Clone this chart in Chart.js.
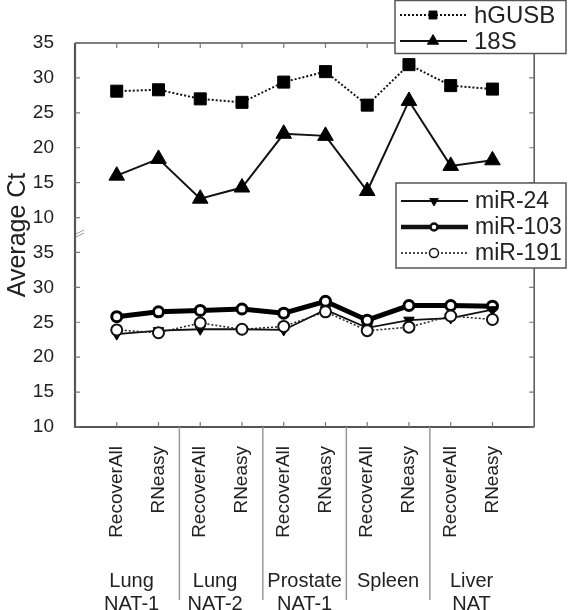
<!DOCTYPE html>
<html>
<head>
<meta charset="utf-8">
<script src="https://cdn.jsdelivr.net/npm/chart.js"></script>
<style>
  html, body { margin: 0; padding: 0; background: #fff; }
  #wrap { width: 568px; height: 610px; position: relative; }
</style>
</head>
<body>
<div id="wrap"><canvas id="c" width="568" height="610"></canvas></div>
<script>
// sample categories (x axis) and tissue groups
const categories = ['RecoverAll', 'RNeasy', 'RecoverAll', 'RNeasy', 'RecoverAll', 'RNeasy',
    'RecoverAll', 'RNeasy', 'RecoverAll', 'RNeasy'];
const groups = [['Lung', 'NAT-1'], ['Lung', 'NAT-2'], ['Prostate', 'NAT-1'], ['Spleen'], ['Liver', 'NAT']];

// y tick labels, both panels use 10..35
const yTickLabels = [10, 15, 20, 25, 30, 35];

// upper panel
const hGUSB = [28.1, 28.3, 27.0, 26.5, 29.4, 30.9, 26.1, 31.9, 28.9, 28.4];
const s18 = [16.0, 18.4, 12.7, 14.3, 22.0, 21.7, 13.8, 26.7, 17.4, 18.2];

// lower panel
const mir24 = [23.3, 23.8, 24.0, 24.0, 23.9, 26.8, 24.2, 25.3, 25.6, 26.8];
const mir103 = [25.8, 26.5, 26.7, 26.9, 26.3, 28.0, 25.3, 27.4, 27.4, 27.3];
const mir191 = [23.9, 23.5, 24.9, 24.0, 24.4, 26.5, 23.8, 24.3, 25.9, 25.4];

// upper panel is shifted up on the shared axis (broken axis)
const TOP_SHIFT = 30;

const FONT = "'Liberation Sans', Arial, sans-serif";
Chart.defaults.font.family = FONT;
Chart.defaults.color = '#222';

function points(vals, shift) {
    return vals.map((v, i) => ({ x: i + 1, y: v + shift }));
}

// marker helper for the legends
function marker(ctx, style, x, y, r, fill, lw) {
    ctx.save();
    ctx.fillStyle = fill;
    ctx.strokeStyle = '#111';
    ctx.lineWidth = lw;
    ctx.beginPath();
    if (style === 'rect') {
        ctx.rect(x - r, y - r, 2 * r, 2 * r);
    } else if (style === 'tri') {
        ctx.moveTo(x, y - r);
        ctx.lineTo(x + r * 0.87, y + r * 0.5);
        ctx.lineTo(x - r * 0.87, y + r * 0.5);
        ctx.closePath();
    } else if (style === 'tridown') {
        ctx.moveTo(x, y + r);
        ctx.lineTo(x + r * 0.87, y - r * 0.5);
        ctx.lineTo(x - r * 0.87, y - r * 0.5);
        ctx.closePath();
    } else {
        ctx.arc(x, y, r, 0, Math.PI * 2);
    }
    ctx.fill();
    ctx.stroke();
    ctx.restore();
}

function legendBox(ctx, x, y, w, h, rows) {
    ctx.save();
    ctx.fillStyle = '#fff';
    ctx.fillRect(x, y, w, h);
    ctx.strokeStyle = '#555';
    ctx.lineWidth = 1.5;
    ctx.strokeRect(x, y, w, h);
    rows.forEach(r => {
        ctx.beginPath();
        ctx.strokeStyle = '#111';
        ctx.lineWidth = r.lw;
        ctx.setLineDash(r.dash || []);
        ctx.moveTo(x + 5, r.y);
        ctx.lineTo(x + 72, r.y);
        ctx.stroke();
        ctx.setLineDash([]);
        marker(ctx, r.style, x + 38, r.y, r.r, r.fill, r.mlw);
        ctx.fillStyle = '#222';
        ctx.font = r.font + 'px ' + FONT;
        ctx.textBaseline = 'middle';
        ctx.fillText(r.label, x + 79, r.y + 1);
    });
    ctx.restore();
}

const framePlugin = {
    id: 'frame',
    beforeDatasetsDraw(chart) {
        const ctx = chart.ctx;
        const { left, right, top, bottom } = chart.chartArea;
        const xs = chart.scales.x, ys = chart.scales.y;
        ctx.save();
        ctx.strokeStyle = '#555';
        // frame
        ctx.lineWidth = 2.2;
        ctx.beginPath();
        ctx.moveTo(left, top); ctx.lineTo(left, bottom); ctx.lineTo(right, bottom);
        ctx.stroke();
        ctx.lineWidth = 1.5;
        ctx.beginPath();
        ctx.moveTo(left, top); ctx.lineTo(right, top); ctx.lineTo(right, bottom);
        ctx.stroke();
        // inward ticks
        ctx.lineWidth = 1.2;
        ctx.strokeStyle = '#777';
        ys.ticks.forEach(t => {
            const py = ys.getPixelForValue(t.value);
            ctx.beginPath();
            ctx.moveTo(left, py); ctx.lineTo(left + 5, py);
            ctx.moveTo(right - 5, py); ctx.lineTo(right, py);
            ctx.stroke();
        });
        for (let i = 1; i <= categories.length; i++) {
            const px = xs.getPixelForValue(i);
            ctx.beginPath();
            ctx.moveTo(px, top); ctx.lineTo(px, top + 5);
            ctx.moveTo(px, bottom - 5); ctx.lineTo(px, bottom);
            ctx.stroke();
        }
        // axis break mark
        const yb = (ys.getPixelForValue(35) + ys.getPixelForValue(40)) / 2 - 4;
        ctx.strokeStyle = '#999';
        ctx.lineWidth = 1;
        ctx.beginPath();
        ctx.moveTo(left + 1, yb + 3); ctx.lineTo(left + 9, yb - 1);
        ctx.moveTo(left + 1, yb + 6); ctx.lineTo(left + 9, yb + 2);
        ctx.stroke();
        // group separators
        ctx.strokeStyle = '#999';
        ctx.lineWidth = 1.5;
        for (let g = 1; g < groups.length; g++) {
            const px = xs.getPixelForValue(2 * g + 0.5);
            ctx.beginPath();
            ctx.moveTo(px, bottom); ctx.lineTo(px, 600);
            ctx.stroke();
        }
        ctx.restore();
    },
    afterDraw(chart) {
        const ctx = chart.ctx;
        const xs = chart.scales.x;
        // group labels
        ctx.save();
        ctx.fillStyle = '#222';
        ctx.font = '20px ' + FONT;
        ctx.textAlign = 'center';
        ctx.textBaseline = 'middle';
        groups.forEach((g, k) => {
            const px = xs.getPixelForValue(2 * k + 1.5) - (k < 2 ? 6 : 0);
            g.forEach((line, j) => ctx.fillText(line, px, 581 + j * 23));
        });
        ctx.restore();

        legendBox(ctx, 395, 0.5, 171, 53, [
            { label: 'hGUSB', y: 15, lw: 2, dash: [2, 2], style: 'rect', r: 4, fill: '#000', mlw: 1, font: 24 },
            { label: '18S', y: 41, lw: 2, style: 'tri', r: 6.5, fill: '#000', mlw: 1, font: 24 }
        ]);
        legendBox(ctx, 396, 183, 170, 85, [
            { label: 'miR-24', y: 201, lw: 2, style: 'tridown', r: 5, fill: '#000', mlw: 1, font: 23 },
            { label: 'miR-103', y: 227, lw: 4.5, style: 'circle', r: 3.5, fill: '#fff', mlw: 2.5, font: 23 },
            { label: 'miR-191', y: 253, lw: 1.5, dash: [2, 2], style: 'circle', r: 4.5, fill: '#fff', mlw: 1.5, font: 23 }
        ]);
    }
};

new Chart(document.getElementById('c'), {
    type: 'line',
    data: {
        datasets: [
            {
                label: 'hGUSB', data: points(hGUSB, TOP_SHIFT), order: 1,
                borderColor: '#111', borderWidth: 2, borderDash: [2, 2],
                pointStyle: 'rect', pointRadius: 8.5, pointBackgroundColor: '#000',
                pointBorderColor: '#000', pointBorderWidth: 1
            },
            {
                label: '18S', data: points(s18, TOP_SHIFT), order: 2,
                borderColor: '#111', borderWidth: 2,
                pointStyle: 'triangle', pointRadius: 9, pointBackgroundColor: '#000',
                pointBorderColor: '#000', pointBorderWidth: 1
            },
            {
                label: 'miR-103', data: points(mir103, 0), order: 5,
                borderColor: '#000', borderWidth: 5,
                pointStyle: 'circle', pointRadius: 5, pointBackgroundColor: '#fff',
                pointBorderColor: '#000', pointBorderWidth: 3
            },
            {
                label: 'miR-24', data: points(mir24, 0), order: 4,
                borderColor: '#111', borderWidth: 1.8,
                pointStyle: 'triangle', pointRotation: 180, pointRadius: 6, pointBackgroundColor: '#000',
                pointBorderColor: '#000', pointBorderWidth: 1
            },
            {
                label: 'miR-191', data: points(mir191, 0), order: 3,
                borderColor: '#222', borderWidth: 1.5, borderDash: [2, 2],
                pointStyle: 'circle', pointRadius: 5.5, pointBackgroundColor: '#fff',
                pointBorderColor: '#111', pointBorderWidth: 2
            }
        ]
    },
    options: {
        responsive: false,
        animation: false,
        clip: false,
        layout: { padding: { top: 43, right: 28, left: 0, bottom: 0 } },
        plugins: { legend: { display: false }, tooltip: { enabled: false } },
        scales: {
            x: {
                type: 'linear', min: 0, max: 11,
                grid: { display: false }, border: { display: false },
                ticks: {
                    stepSize: 1, autoSkip: false, minRotation: 90, maxRotation: 90,
                    padding: 11, color: '#222', font: { size: 19 },
                    callback: v => categories[v - 1] || ''
                },
                afterFit(scale) { scale.height = 183; }
            },
            y: {
                type: 'linear', min: 10, max: 35 + TOP_SHIFT,
                grid: { display: false }, border: { display: false },
                ticks: {
                    stepSize: 5, padding: 13, color: '#222', font: { size: 19 },
                    callback: v => (v > 35 ? v - TOP_SHIFT : v)
                },
                title: {
                    display: true, text: 'Average Ct', color: '#222',
                    font: { size: 25 }, padding: { top: 3, bottom: 0 }
                },
                afterFit(scale) { scale.width = 75; }
            }
        }
    },
    plugins: [framePlugin]
});
</script>
</body>
</html>
